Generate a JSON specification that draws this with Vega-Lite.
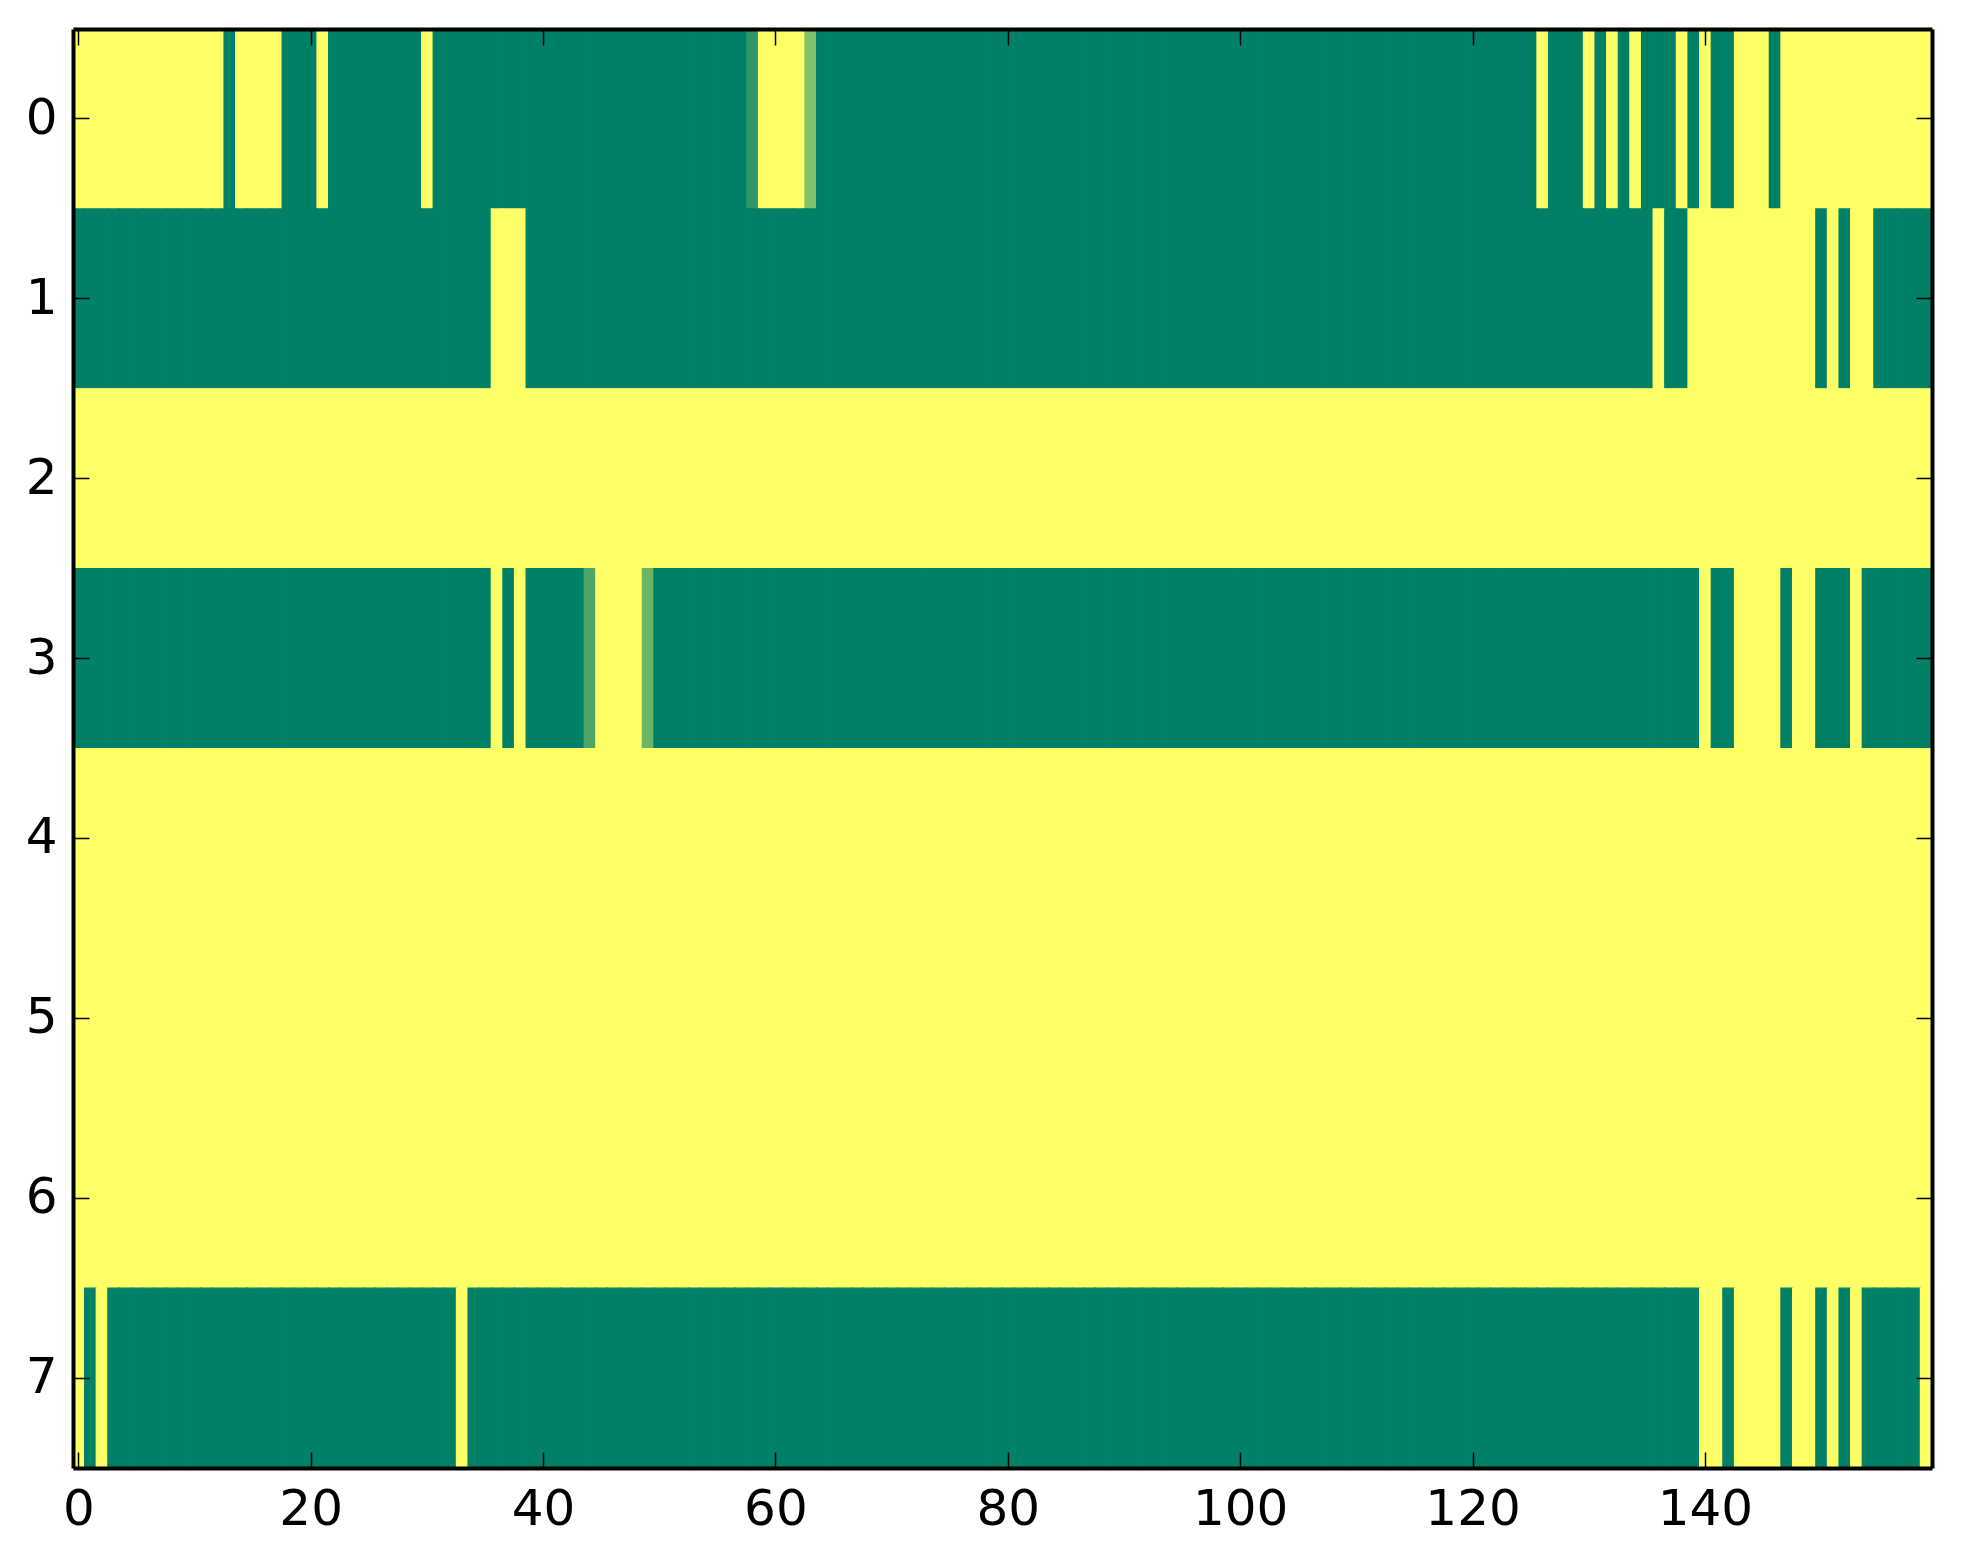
{
  "$schema": "https://vega.github.io/schema/vega-lite/v6.json",
  "description": "Binary matrix shown with the summer colormap",
  "width": 1859,
  "height": 1439,
  "autosize": "none",
  "padding": {"left": 73, "top": 29, "right": 31, "bottom": 96},
  "background": "white",
  "data": {"values": [
    {"r":0,"c":0,"v":1},{"r":0,"c":1,"v":1},{"r":0,"c":2,"v":1},{"r":0,"c":3,"v":1},{"r":0,"c":4,"v":1},{"r":0,"c":5,"v":1},{"r":0,"c":6,"v":1},{"r":0,"c":7,"v":1},{"r":0,"c":8,"v":1},{"r":0,"c":9,"v":1},
    {"r":0,"c":10,"v":1},{"r":0,"c":11,"v":1},{"r":0,"c":12,"v":1},{"r":0,"c":13,"v":0},{"r":0,"c":14,"v":1},{"r":0,"c":15,"v":1},{"r":0,"c":16,"v":1},{"r":0,"c":17,"v":1},{"r":0,"c":18,"v":0},{"r":0,"c":19,"v":0},
    {"r":0,"c":20,"v":0},{"r":0,"c":21,"v":1},{"r":0,"c":22,"v":0},{"r":0,"c":23,"v":0},{"r":0,"c":24,"v":0},{"r":0,"c":25,"v":0},{"r":0,"c":26,"v":0},{"r":0,"c":27,"v":0},{"r":0,"c":28,"v":0},{"r":0,"c":29,"v":0},
    {"r":0,"c":30,"v":1},{"r":0,"c":31,"v":0},{"r":0,"c":32,"v":0},{"r":0,"c":33,"v":0},{"r":0,"c":34,"v":0},{"r":0,"c":35,"v":0},{"r":0,"c":36,"v":0},{"r":0,"c":37,"v":0},{"r":0,"c":38,"v":0},{"r":0,"c":39,"v":0},
    {"r":0,"c":40,"v":0},{"r":0,"c":41,"v":0},{"r":0,"c":42,"v":0},{"r":0,"c":43,"v":0},{"r":0,"c":44,"v":0},{"r":0,"c":45,"v":0},{"r":0,"c":46,"v":0},{"r":0,"c":47,"v":0},{"r":0,"c":48,"v":0},{"r":0,"c":49,"v":0},
    {"r":0,"c":50,"v":0},{"r":0,"c":51,"v":0},{"r":0,"c":52,"v":0},{"r":0,"c":53,"v":0},{"r":0,"c":54,"v":0},{"r":0,"c":55,"v":0},{"r":0,"c":56,"v":0},{"r":0,"c":57,"v":0},{"r":0,"c":58,"v":0.18},{"r":0,"c":59,"v":1},
    {"r":0,"c":60,"v":1},{"r":0,"c":61,"v":1},{"r":0,"c":62,"v":1},{"r":0,"c":63,"v":0.5},{"r":0,"c":64,"v":0},{"r":0,"c":65,"v":0},{"r":0,"c":66,"v":0},{"r":0,"c":67,"v":0},{"r":0,"c":68,"v":0},{"r":0,"c":69,"v":0},
    {"r":0,"c":70,"v":0},{"r":0,"c":71,"v":0},{"r":0,"c":72,"v":0},{"r":0,"c":73,"v":0},{"r":0,"c":74,"v":0},{"r":0,"c":75,"v":0},{"r":0,"c":76,"v":0},{"r":0,"c":77,"v":0},{"r":0,"c":78,"v":0},{"r":0,"c":79,"v":0},
    {"r":0,"c":80,"v":0},{"r":0,"c":81,"v":0},{"r":0,"c":82,"v":0},{"r":0,"c":83,"v":0},{"r":0,"c":84,"v":0},{"r":0,"c":85,"v":0},{"r":0,"c":86,"v":0},{"r":0,"c":87,"v":0},{"r":0,"c":88,"v":0},{"r":0,"c":89,"v":0},
    {"r":0,"c":90,"v":0},{"r":0,"c":91,"v":0},{"r":0,"c":92,"v":0},{"r":0,"c":93,"v":0},{"r":0,"c":94,"v":0},{"r":0,"c":95,"v":0},{"r":0,"c":96,"v":0},{"r":0,"c":97,"v":0},{"r":0,"c":98,"v":0},{"r":0,"c":99,"v":0},
    {"r":0,"c":100,"v":0},{"r":0,"c":101,"v":0},{"r":0,"c":102,"v":0},{"r":0,"c":103,"v":0},{"r":0,"c":104,"v":0},{"r":0,"c":105,"v":0},{"r":0,"c":106,"v":0},{"r":0,"c":107,"v":0},{"r":0,"c":108,"v":0},{"r":0,"c":109,"v":0},
    {"r":0,"c":110,"v":0},{"r":0,"c":111,"v":0},{"r":0,"c":112,"v":0},{"r":0,"c":113,"v":0},{"r":0,"c":114,"v":0},{"r":0,"c":115,"v":0},{"r":0,"c":116,"v":0},{"r":0,"c":117,"v":0},{"r":0,"c":118,"v":0},{"r":0,"c":119,"v":0},
    {"r":0,"c":120,"v":0},{"r":0,"c":121,"v":0},{"r":0,"c":122,"v":0},{"r":0,"c":123,"v":0},{"r":0,"c":124,"v":0},{"r":0,"c":125,"v":0},{"r":0,"c":126,"v":1},{"r":0,"c":127,"v":0},{"r":0,"c":128,"v":0},{"r":0,"c":129,"v":0},
    {"r":0,"c":130,"v":1},{"r":0,"c":131,"v":0},{"r":0,"c":132,"v":1},{"r":0,"c":133,"v":0},{"r":0,"c":134,"v":1},{"r":0,"c":135,"v":0},{"r":0,"c":136,"v":0},{"r":0,"c":137,"v":0},{"r":0,"c":138,"v":1},{"r":0,"c":139,"v":0},
    {"r":0,"c":140,"v":1},{"r":0,"c":141,"v":0},{"r":0,"c":142,"v":0},{"r":0,"c":143,"v":1},{"r":0,"c":144,"v":1},{"r":0,"c":145,"v":1},{"r":0,"c":146,"v":0},{"r":0,"c":147,"v":1},{"r":0,"c":148,"v":1},{"r":0,"c":149,"v":1},
    {"r":0,"c":150,"v":1},{"r":0,"c":151,"v":1},{"r":0,"c":152,"v":1},{"r":0,"c":153,"v":1},{"r":0,"c":154,"v":1},{"r":0,"c":155,"v":1},{"r":0,"c":156,"v":1},{"r":0,"c":157,"v":1},{"r":0,"c":158,"v":1},{"r":0,"c":159,"v":1},

    {"r":1,"c":0,"v":0},{"r":1,"c":1,"v":0},{"r":1,"c":2,"v":0},{"r":1,"c":3,"v":0},{"r":1,"c":4,"v":0},{"r":1,"c":5,"v":0},{"r":1,"c":6,"v":0},{"r":1,"c":7,"v":0},{"r":1,"c":8,"v":0},{"r":1,"c":9,"v":0},
    {"r":1,"c":10,"v":0},{"r":1,"c":11,"v":0},{"r":1,"c":12,"v":0},{"r":1,"c":13,"v":0},{"r":1,"c":14,"v":0},{"r":1,"c":15,"v":0},{"r":1,"c":16,"v":0},{"r":1,"c":17,"v":0},{"r":1,"c":18,"v":0},{"r":1,"c":19,"v":0},
    {"r":1,"c":20,"v":0},{"r":1,"c":21,"v":0},{"r":1,"c":22,"v":0},{"r":1,"c":23,"v":0},{"r":1,"c":24,"v":0},{"r":1,"c":25,"v":0},{"r":1,"c":26,"v":0},{"r":1,"c":27,"v":0},{"r":1,"c":28,"v":0},{"r":1,"c":29,"v":0},
    {"r":1,"c":30,"v":0},{"r":1,"c":31,"v":0},{"r":1,"c":32,"v":0},{"r":1,"c":33,"v":0},{"r":1,"c":34,"v":0},{"r":1,"c":35,"v":0},{"r":1,"c":36,"v":1},{"r":1,"c":37,"v":1},{"r":1,"c":38,"v":1},{"r":1,"c":39,"v":0},
    {"r":1,"c":40,"v":0},{"r":1,"c":41,"v":0},{"r":1,"c":42,"v":0},{"r":1,"c":43,"v":0},{"r":1,"c":44,"v":0},{"r":1,"c":45,"v":0},{"r":1,"c":46,"v":0},{"r":1,"c":47,"v":0},{"r":1,"c":48,"v":0},{"r":1,"c":49,"v":0},
    {"r":1,"c":50,"v":0},{"r":1,"c":51,"v":0},{"r":1,"c":52,"v":0},{"r":1,"c":53,"v":0},{"r":1,"c":54,"v":0},{"r":1,"c":55,"v":0},{"r":1,"c":56,"v":0},{"r":1,"c":57,"v":0},{"r":1,"c":58,"v":0},{"r":1,"c":59,"v":0},
    {"r":1,"c":60,"v":0},{"r":1,"c":61,"v":0},{"r":1,"c":62,"v":0},{"r":1,"c":63,"v":0},{"r":1,"c":64,"v":0},{"r":1,"c":65,"v":0},{"r":1,"c":66,"v":0},{"r":1,"c":67,"v":0},{"r":1,"c":68,"v":0},{"r":1,"c":69,"v":0},
    {"r":1,"c":70,"v":0},{"r":1,"c":71,"v":0},{"r":1,"c":72,"v":0},{"r":1,"c":73,"v":0},{"r":1,"c":74,"v":0},{"r":1,"c":75,"v":0},{"r":1,"c":76,"v":0},{"r":1,"c":77,"v":0},{"r":1,"c":78,"v":0},{"r":1,"c":79,"v":0},
    {"r":1,"c":80,"v":0},{"r":1,"c":81,"v":0},{"r":1,"c":82,"v":0},{"r":1,"c":83,"v":0},{"r":1,"c":84,"v":0},{"r":1,"c":85,"v":0},{"r":1,"c":86,"v":0},{"r":1,"c":87,"v":0},{"r":1,"c":88,"v":0},{"r":1,"c":89,"v":0},
    {"r":1,"c":90,"v":0},{"r":1,"c":91,"v":0},{"r":1,"c":92,"v":0},{"r":1,"c":93,"v":0},{"r":1,"c":94,"v":0},{"r":1,"c":95,"v":0},{"r":1,"c":96,"v":0},{"r":1,"c":97,"v":0},{"r":1,"c":98,"v":0},{"r":1,"c":99,"v":0},
    {"r":1,"c":100,"v":0},{"r":1,"c":101,"v":0},{"r":1,"c":102,"v":0},{"r":1,"c":103,"v":0},{"r":1,"c":104,"v":0},{"r":1,"c":105,"v":0},{"r":1,"c":106,"v":0},{"r":1,"c":107,"v":0},{"r":1,"c":108,"v":0},{"r":1,"c":109,"v":0},
    {"r":1,"c":110,"v":0},{"r":1,"c":111,"v":0},{"r":1,"c":112,"v":0},{"r":1,"c":113,"v":0},{"r":1,"c":114,"v":0},{"r":1,"c":115,"v":0},{"r":1,"c":116,"v":0},{"r":1,"c":117,"v":0},{"r":1,"c":118,"v":0},{"r":1,"c":119,"v":0},
    {"r":1,"c":120,"v":0},{"r":1,"c":121,"v":0},{"r":1,"c":122,"v":0},{"r":1,"c":123,"v":0},{"r":1,"c":124,"v":0},{"r":1,"c":125,"v":0},{"r":1,"c":126,"v":0},{"r":1,"c":127,"v":0},{"r":1,"c":128,"v":0},{"r":1,"c":129,"v":0},
    {"r":1,"c":130,"v":0},{"r":1,"c":131,"v":0},{"r":1,"c":132,"v":0},{"r":1,"c":133,"v":0},{"r":1,"c":134,"v":0},{"r":1,"c":135,"v":0},{"r":1,"c":136,"v":1},{"r":1,"c":137,"v":0},{"r":1,"c":138,"v":0},{"r":1,"c":139,"v":1},
    {"r":1,"c":140,"v":1},{"r":1,"c":141,"v":1},{"r":1,"c":142,"v":1},{"r":1,"c":143,"v":1},{"r":1,"c":144,"v":1},{"r":1,"c":145,"v":1},{"r":1,"c":146,"v":1},{"r":1,"c":147,"v":1},{"r":1,"c":148,"v":1},{"r":1,"c":149,"v":1},
    {"r":1,"c":150,"v":0},{"r":1,"c":151,"v":1},{"r":1,"c":152,"v":0},{"r":1,"c":153,"v":1},{"r":1,"c":154,"v":1},{"r":1,"c":155,"v":0},{"r":1,"c":156,"v":0},{"r":1,"c":157,"v":0},{"r":1,"c":158,"v":0},{"r":1,"c":159,"v":0},

    {"r":2,"c":0,"v":1},{"r":2,"c":1,"v":1},{"r":2,"c":2,"v":1},{"r":2,"c":3,"v":1},{"r":2,"c":4,"v":1},{"r":2,"c":5,"v":1},{"r":2,"c":6,"v":1},{"r":2,"c":7,"v":1},{"r":2,"c":8,"v":1},{"r":2,"c":9,"v":1},
    {"r":2,"c":10,"v":1},{"r":2,"c":11,"v":1},{"r":2,"c":12,"v":1},{"r":2,"c":13,"v":1},{"r":2,"c":14,"v":1},{"r":2,"c":15,"v":1},{"r":2,"c":16,"v":1},{"r":2,"c":17,"v":1},{"r":2,"c":18,"v":1},{"r":2,"c":19,"v":1},
    {"r":2,"c":20,"v":1},{"r":2,"c":21,"v":1},{"r":2,"c":22,"v":1},{"r":2,"c":23,"v":1},{"r":2,"c":24,"v":1},{"r":2,"c":25,"v":1},{"r":2,"c":26,"v":1},{"r":2,"c":27,"v":1},{"r":2,"c":28,"v":1},{"r":2,"c":29,"v":1},
    {"r":2,"c":30,"v":1},{"r":2,"c":31,"v":1},{"r":2,"c":32,"v":1},{"r":2,"c":33,"v":1},{"r":2,"c":34,"v":1},{"r":2,"c":35,"v":1},{"r":2,"c":36,"v":1},{"r":2,"c":37,"v":1},{"r":2,"c":38,"v":1},{"r":2,"c":39,"v":1},
    {"r":2,"c":40,"v":1},{"r":2,"c":41,"v":1},{"r":2,"c":42,"v":1},{"r":2,"c":43,"v":1},{"r":2,"c":44,"v":1},{"r":2,"c":45,"v":1},{"r":2,"c":46,"v":1},{"r":2,"c":47,"v":1},{"r":2,"c":48,"v":1},{"r":2,"c":49,"v":1},
    {"r":2,"c":50,"v":1},{"r":2,"c":51,"v":1},{"r":2,"c":52,"v":1},{"r":2,"c":53,"v":1},{"r":2,"c":54,"v":1},{"r":2,"c":55,"v":1},{"r":2,"c":56,"v":1},{"r":2,"c":57,"v":1},{"r":2,"c":58,"v":1},{"r":2,"c":59,"v":1},
    {"r":2,"c":60,"v":1},{"r":2,"c":61,"v":1},{"r":2,"c":62,"v":1},{"r":2,"c":63,"v":1},{"r":2,"c":64,"v":1},{"r":2,"c":65,"v":1},{"r":2,"c":66,"v":1},{"r":2,"c":67,"v":1},{"r":2,"c":68,"v":1},{"r":2,"c":69,"v":1},
    {"r":2,"c":70,"v":1},{"r":2,"c":71,"v":1},{"r":2,"c":72,"v":1},{"r":2,"c":73,"v":1},{"r":2,"c":74,"v":1},{"r":2,"c":75,"v":1},{"r":2,"c":76,"v":1},{"r":2,"c":77,"v":1},{"r":2,"c":78,"v":1},{"r":2,"c":79,"v":1},
    {"r":2,"c":80,"v":1},{"r":2,"c":81,"v":1},{"r":2,"c":82,"v":1},{"r":2,"c":83,"v":1},{"r":2,"c":84,"v":1},{"r":2,"c":85,"v":1},{"r":2,"c":86,"v":1},{"r":2,"c":87,"v":1},{"r":2,"c":88,"v":1},{"r":2,"c":89,"v":1},
    {"r":2,"c":90,"v":1},{"r":2,"c":91,"v":1},{"r":2,"c":92,"v":1},{"r":2,"c":93,"v":1},{"r":2,"c":94,"v":1},{"r":2,"c":95,"v":1},{"r":2,"c":96,"v":1},{"r":2,"c":97,"v":1},{"r":2,"c":98,"v":1},{"r":2,"c":99,"v":1},
    {"r":2,"c":100,"v":1},{"r":2,"c":101,"v":1},{"r":2,"c":102,"v":1},{"r":2,"c":103,"v":1},{"r":2,"c":104,"v":1},{"r":2,"c":105,"v":1},{"r":2,"c":106,"v":1},{"r":2,"c":107,"v":1},{"r":2,"c":108,"v":1},{"r":2,"c":109,"v":1},
    {"r":2,"c":110,"v":1},{"r":2,"c":111,"v":1},{"r":2,"c":112,"v":1},{"r":2,"c":113,"v":1},{"r":2,"c":114,"v":1},{"r":2,"c":115,"v":1},{"r":2,"c":116,"v":1},{"r":2,"c":117,"v":1},{"r":2,"c":118,"v":1},{"r":2,"c":119,"v":1},
    {"r":2,"c":120,"v":1},{"r":2,"c":121,"v":1},{"r":2,"c":122,"v":1},{"r":2,"c":123,"v":1},{"r":2,"c":124,"v":1},{"r":2,"c":125,"v":1},{"r":2,"c":126,"v":1},{"r":2,"c":127,"v":1},{"r":2,"c":128,"v":1},{"r":2,"c":129,"v":1},
    {"r":2,"c":130,"v":1},{"r":2,"c":131,"v":1},{"r":2,"c":132,"v":1},{"r":2,"c":133,"v":1},{"r":2,"c":134,"v":1},{"r":2,"c":135,"v":1},{"r":2,"c":136,"v":1},{"r":2,"c":137,"v":1},{"r":2,"c":138,"v":1},{"r":2,"c":139,"v":1},
    {"r":2,"c":140,"v":1},{"r":2,"c":141,"v":1},{"r":2,"c":142,"v":1},{"r":2,"c":143,"v":1},{"r":2,"c":144,"v":1},{"r":2,"c":145,"v":1},{"r":2,"c":146,"v":1},{"r":2,"c":147,"v":1},{"r":2,"c":148,"v":1},{"r":2,"c":149,"v":1},
    {"r":2,"c":150,"v":1},{"r":2,"c":151,"v":1},{"r":2,"c":152,"v":1},{"r":2,"c":153,"v":1},{"r":2,"c":154,"v":1},{"r":2,"c":155,"v":1},{"r":2,"c":156,"v":1},{"r":2,"c":157,"v":1},{"r":2,"c":158,"v":1},{"r":2,"c":159,"v":1},

    {"r":3,"c":0,"v":0},{"r":3,"c":1,"v":0},{"r":3,"c":2,"v":0},{"r":3,"c":3,"v":0},{"r":3,"c":4,"v":0},{"r":3,"c":5,"v":0},{"r":3,"c":6,"v":0},{"r":3,"c":7,"v":0},{"r":3,"c":8,"v":0},{"r":3,"c":9,"v":0},
    {"r":3,"c":10,"v":0},{"r":3,"c":11,"v":0},{"r":3,"c":12,"v":0},{"r":3,"c":13,"v":0},{"r":3,"c":14,"v":0},{"r":3,"c":15,"v":0},{"r":3,"c":16,"v":0},{"r":3,"c":17,"v":0},{"r":3,"c":18,"v":0},{"r":3,"c":19,"v":0},
    {"r":3,"c":20,"v":0},{"r":3,"c":21,"v":0},{"r":3,"c":22,"v":0},{"r":3,"c":23,"v":0},{"r":3,"c":24,"v":0},{"r":3,"c":25,"v":0},{"r":3,"c":26,"v":0},{"r":3,"c":27,"v":0},{"r":3,"c":28,"v":0},{"r":3,"c":29,"v":0},
    {"r":3,"c":30,"v":0},{"r":3,"c":31,"v":0},{"r":3,"c":32,"v":0},{"r":3,"c":33,"v":0},{"r":3,"c":34,"v":0},{"r":3,"c":35,"v":0},{"r":3,"c":36,"v":1},{"r":3,"c":37,"v":0},{"r":3,"c":38,"v":1},{"r":3,"c":39,"v":0},
    {"r":3,"c":40,"v":0},{"r":3,"c":41,"v":0},{"r":3,"c":42,"v":0},{"r":3,"c":43,"v":0},{"r":3,"c":44,"v":0.3},{"r":3,"c":45,"v":1},{"r":3,"c":46,"v":1},{"r":3,"c":47,"v":1},{"r":3,"c":48,"v":1},{"r":3,"c":49,"v":0.42},
    {"r":3,"c":50,"v":0},{"r":3,"c":51,"v":0},{"r":3,"c":52,"v":0},{"r":3,"c":53,"v":0},{"r":3,"c":54,"v":0},{"r":3,"c":55,"v":0},{"r":3,"c":56,"v":0},{"r":3,"c":57,"v":0},{"r":3,"c":58,"v":0},{"r":3,"c":59,"v":0},
    {"r":3,"c":60,"v":0},{"r":3,"c":61,"v":0},{"r":3,"c":62,"v":0},{"r":3,"c":63,"v":0},{"r":3,"c":64,"v":0},{"r":3,"c":65,"v":0},{"r":3,"c":66,"v":0},{"r":3,"c":67,"v":0},{"r":3,"c":68,"v":0},{"r":3,"c":69,"v":0},
    {"r":3,"c":70,"v":0},{"r":3,"c":71,"v":0},{"r":3,"c":72,"v":0},{"r":3,"c":73,"v":0},{"r":3,"c":74,"v":0},{"r":3,"c":75,"v":0},{"r":3,"c":76,"v":0},{"r":3,"c":77,"v":0},{"r":3,"c":78,"v":0},{"r":3,"c":79,"v":0},
    {"r":3,"c":80,"v":0},{"r":3,"c":81,"v":0},{"r":3,"c":82,"v":0},{"r":3,"c":83,"v":0},{"r":3,"c":84,"v":0},{"r":3,"c":85,"v":0},{"r":3,"c":86,"v":0},{"r":3,"c":87,"v":0},{"r":3,"c":88,"v":0},{"r":3,"c":89,"v":0},
    {"r":3,"c":90,"v":0},{"r":3,"c":91,"v":0},{"r":3,"c":92,"v":0},{"r":3,"c":93,"v":0},{"r":3,"c":94,"v":0},{"r":3,"c":95,"v":0},{"r":3,"c":96,"v":0},{"r":3,"c":97,"v":0},{"r":3,"c":98,"v":0},{"r":3,"c":99,"v":0},
    {"r":3,"c":100,"v":0},{"r":3,"c":101,"v":0},{"r":3,"c":102,"v":0},{"r":3,"c":103,"v":0},{"r":3,"c":104,"v":0},{"r":3,"c":105,"v":0},{"r":3,"c":106,"v":0},{"r":3,"c":107,"v":0},{"r":3,"c":108,"v":0},{"r":3,"c":109,"v":0},
    {"r":3,"c":110,"v":0},{"r":3,"c":111,"v":0},{"r":3,"c":112,"v":0},{"r":3,"c":113,"v":0},{"r":3,"c":114,"v":0},{"r":3,"c":115,"v":0},{"r":3,"c":116,"v":0},{"r":3,"c":117,"v":0},{"r":3,"c":118,"v":0},{"r":3,"c":119,"v":0},
    {"r":3,"c":120,"v":0},{"r":3,"c":121,"v":0},{"r":3,"c":122,"v":0},{"r":3,"c":123,"v":0},{"r":3,"c":124,"v":0},{"r":3,"c":125,"v":0},{"r":3,"c":126,"v":0},{"r":3,"c":127,"v":0},{"r":3,"c":128,"v":0},{"r":3,"c":129,"v":0},
    {"r":3,"c":130,"v":0},{"r":3,"c":131,"v":0},{"r":3,"c":132,"v":0},{"r":3,"c":133,"v":0},{"r":3,"c":134,"v":0},{"r":3,"c":135,"v":0},{"r":3,"c":136,"v":0},{"r":3,"c":137,"v":0},{"r":3,"c":138,"v":0},{"r":3,"c":139,"v":0},
    {"r":3,"c":140,"v":1},{"r":3,"c":141,"v":0},{"r":3,"c":142,"v":0},{"r":3,"c":143,"v":1},{"r":3,"c":144,"v":1},{"r":3,"c":145,"v":1},{"r":3,"c":146,"v":1},{"r":3,"c":147,"v":0},{"r":3,"c":148,"v":1},{"r":3,"c":149,"v":1},
    {"r":3,"c":150,"v":0},{"r":3,"c":151,"v":0},{"r":3,"c":152,"v":0},{"r":3,"c":153,"v":1},{"r":3,"c":154,"v":0},{"r":3,"c":155,"v":0},{"r":3,"c":156,"v":0},{"r":3,"c":157,"v":0},{"r":3,"c":158,"v":0},{"r":3,"c":159,"v":0},

    {"r":4,"c":0,"v":1},{"r":4,"c":1,"v":1},{"r":4,"c":2,"v":1},{"r":4,"c":3,"v":1},{"r":4,"c":4,"v":1},{"r":4,"c":5,"v":1},{"r":4,"c":6,"v":1},{"r":4,"c":7,"v":1},{"r":4,"c":8,"v":1},{"r":4,"c":9,"v":1},
    {"r":4,"c":10,"v":1},{"r":4,"c":11,"v":1},{"r":4,"c":12,"v":1},{"r":4,"c":13,"v":1},{"r":4,"c":14,"v":1},{"r":4,"c":15,"v":1},{"r":4,"c":16,"v":1},{"r":4,"c":17,"v":1},{"r":4,"c":18,"v":1},{"r":4,"c":19,"v":1},
    {"r":4,"c":20,"v":1},{"r":4,"c":21,"v":1},{"r":4,"c":22,"v":1},{"r":4,"c":23,"v":1},{"r":4,"c":24,"v":1},{"r":4,"c":25,"v":1},{"r":4,"c":26,"v":1},{"r":4,"c":27,"v":1},{"r":4,"c":28,"v":1},{"r":4,"c":29,"v":1},
    {"r":4,"c":30,"v":1},{"r":4,"c":31,"v":1},{"r":4,"c":32,"v":1},{"r":4,"c":33,"v":1},{"r":4,"c":34,"v":1},{"r":4,"c":35,"v":1},{"r":4,"c":36,"v":1},{"r":4,"c":37,"v":1},{"r":4,"c":38,"v":1},{"r":4,"c":39,"v":1},
    {"r":4,"c":40,"v":1},{"r":4,"c":41,"v":1},{"r":4,"c":42,"v":1},{"r":4,"c":43,"v":1},{"r":4,"c":44,"v":1},{"r":4,"c":45,"v":1},{"r":4,"c":46,"v":1},{"r":4,"c":47,"v":1},{"r":4,"c":48,"v":1},{"r":4,"c":49,"v":1},
    {"r":4,"c":50,"v":1},{"r":4,"c":51,"v":1},{"r":4,"c":52,"v":1},{"r":4,"c":53,"v":1},{"r":4,"c":54,"v":1},{"r":4,"c":55,"v":1},{"r":4,"c":56,"v":1},{"r":4,"c":57,"v":1},{"r":4,"c":58,"v":1},{"r":4,"c":59,"v":1},
    {"r":4,"c":60,"v":1},{"r":4,"c":61,"v":1},{"r":4,"c":62,"v":1},{"r":4,"c":63,"v":1},{"r":4,"c":64,"v":1},{"r":4,"c":65,"v":1},{"r":4,"c":66,"v":1},{"r":4,"c":67,"v":1},{"r":4,"c":68,"v":1},{"r":4,"c":69,"v":1},
    {"r":4,"c":70,"v":1},{"r":4,"c":71,"v":1},{"r":4,"c":72,"v":1},{"r":4,"c":73,"v":1},{"r":4,"c":74,"v":1},{"r":4,"c":75,"v":1},{"r":4,"c":76,"v":1},{"r":4,"c":77,"v":1},{"r":4,"c":78,"v":1},{"r":4,"c":79,"v":1},
    {"r":4,"c":80,"v":1},{"r":4,"c":81,"v":1},{"r":4,"c":82,"v":1},{"r":4,"c":83,"v":1},{"r":4,"c":84,"v":1},{"r":4,"c":85,"v":1},{"r":4,"c":86,"v":1},{"r":4,"c":87,"v":1},{"r":4,"c":88,"v":1},{"r":4,"c":89,"v":1},
    {"r":4,"c":90,"v":1},{"r":4,"c":91,"v":1},{"r":4,"c":92,"v":1},{"r":4,"c":93,"v":1},{"r":4,"c":94,"v":1},{"r":4,"c":95,"v":1},{"r":4,"c":96,"v":1},{"r":4,"c":97,"v":1},{"r":4,"c":98,"v":1},{"r":4,"c":99,"v":1},
    {"r":4,"c":100,"v":1},{"r":4,"c":101,"v":1},{"r":4,"c":102,"v":1},{"r":4,"c":103,"v":1},{"r":4,"c":104,"v":1},{"r":4,"c":105,"v":1},{"r":4,"c":106,"v":1},{"r":4,"c":107,"v":1},{"r":4,"c":108,"v":1},{"r":4,"c":109,"v":1},
    {"r":4,"c":110,"v":1},{"r":4,"c":111,"v":1},{"r":4,"c":112,"v":1},{"r":4,"c":113,"v":1},{"r":4,"c":114,"v":1},{"r":4,"c":115,"v":1},{"r":4,"c":116,"v":1},{"r":4,"c":117,"v":1},{"r":4,"c":118,"v":1},{"r":4,"c":119,"v":1},
    {"r":4,"c":120,"v":1},{"r":4,"c":121,"v":1},{"r":4,"c":122,"v":1},{"r":4,"c":123,"v":1},{"r":4,"c":124,"v":1},{"r":4,"c":125,"v":1},{"r":4,"c":126,"v":1},{"r":4,"c":127,"v":1},{"r":4,"c":128,"v":1},{"r":4,"c":129,"v":1},
    {"r":4,"c":130,"v":1},{"r":4,"c":131,"v":1},{"r":4,"c":132,"v":1},{"r":4,"c":133,"v":1},{"r":4,"c":134,"v":1},{"r":4,"c":135,"v":1},{"r":4,"c":136,"v":1},{"r":4,"c":137,"v":1},{"r":4,"c":138,"v":1},{"r":4,"c":139,"v":1},
    {"r":4,"c":140,"v":1},{"r":4,"c":141,"v":1},{"r":4,"c":142,"v":1},{"r":4,"c":143,"v":1},{"r":4,"c":144,"v":1},{"r":4,"c":145,"v":1},{"r":4,"c":146,"v":1},{"r":4,"c":147,"v":1},{"r":4,"c":148,"v":1},{"r":4,"c":149,"v":1},
    {"r":4,"c":150,"v":1},{"r":4,"c":151,"v":1},{"r":4,"c":152,"v":1},{"r":4,"c":153,"v":1},{"r":4,"c":154,"v":1},{"r":4,"c":155,"v":1},{"r":4,"c":156,"v":1},{"r":4,"c":157,"v":1},{"r":4,"c":158,"v":1},{"r":4,"c":159,"v":1},

    {"r":5,"c":0,"v":1},{"r":5,"c":1,"v":1},{"r":5,"c":2,"v":1},{"r":5,"c":3,"v":1},{"r":5,"c":4,"v":1},{"r":5,"c":5,"v":1},{"r":5,"c":6,"v":1},{"r":5,"c":7,"v":1},{"r":5,"c":8,"v":1},{"r":5,"c":9,"v":1},
    {"r":5,"c":10,"v":1},{"r":5,"c":11,"v":1},{"r":5,"c":12,"v":1},{"r":5,"c":13,"v":1},{"r":5,"c":14,"v":1},{"r":5,"c":15,"v":1},{"r":5,"c":16,"v":1},{"r":5,"c":17,"v":1},{"r":5,"c":18,"v":1},{"r":5,"c":19,"v":1},
    {"r":5,"c":20,"v":1},{"r":5,"c":21,"v":1},{"r":5,"c":22,"v":1},{"r":5,"c":23,"v":1},{"r":5,"c":24,"v":1},{"r":5,"c":25,"v":1},{"r":5,"c":26,"v":1},{"r":5,"c":27,"v":1},{"r":5,"c":28,"v":1},{"r":5,"c":29,"v":1},
    {"r":5,"c":30,"v":1},{"r":5,"c":31,"v":1},{"r":5,"c":32,"v":1},{"r":5,"c":33,"v":1},{"r":5,"c":34,"v":1},{"r":5,"c":35,"v":1},{"r":5,"c":36,"v":1},{"r":5,"c":37,"v":1},{"r":5,"c":38,"v":1},{"r":5,"c":39,"v":1},
    {"r":5,"c":40,"v":1},{"r":5,"c":41,"v":1},{"r":5,"c":42,"v":1},{"r":5,"c":43,"v":1},{"r":5,"c":44,"v":1},{"r":5,"c":45,"v":1},{"r":5,"c":46,"v":1},{"r":5,"c":47,"v":1},{"r":5,"c":48,"v":1},{"r":5,"c":49,"v":1},
    {"r":5,"c":50,"v":1},{"r":5,"c":51,"v":1},{"r":5,"c":52,"v":1},{"r":5,"c":53,"v":1},{"r":5,"c":54,"v":1},{"r":5,"c":55,"v":1},{"r":5,"c":56,"v":1},{"r":5,"c":57,"v":1},{"r":5,"c":58,"v":1},{"r":5,"c":59,"v":1},
    {"r":5,"c":60,"v":1},{"r":5,"c":61,"v":1},{"r":5,"c":62,"v":1},{"r":5,"c":63,"v":1},{"r":5,"c":64,"v":1},{"r":5,"c":65,"v":1},{"r":5,"c":66,"v":1},{"r":5,"c":67,"v":1},{"r":5,"c":68,"v":1},{"r":5,"c":69,"v":1},
    {"r":5,"c":70,"v":1},{"r":5,"c":71,"v":1},{"r":5,"c":72,"v":1},{"r":5,"c":73,"v":1},{"r":5,"c":74,"v":1},{"r":5,"c":75,"v":1},{"r":5,"c":76,"v":1},{"r":5,"c":77,"v":1},{"r":5,"c":78,"v":1},{"r":5,"c":79,"v":1},
    {"r":5,"c":80,"v":1},{"r":5,"c":81,"v":1},{"r":5,"c":82,"v":1},{"r":5,"c":83,"v":1},{"r":5,"c":84,"v":1},{"r":5,"c":85,"v":1},{"r":5,"c":86,"v":1},{"r":5,"c":87,"v":1},{"r":5,"c":88,"v":1},{"r":5,"c":89,"v":1},
    {"r":5,"c":90,"v":1},{"r":5,"c":91,"v":1},{"r":5,"c":92,"v":1},{"r":5,"c":93,"v":1},{"r":5,"c":94,"v":1},{"r":5,"c":95,"v":1},{"r":5,"c":96,"v":1},{"r":5,"c":97,"v":1},{"r":5,"c":98,"v":1},{"r":5,"c":99,"v":1},
    {"r":5,"c":100,"v":1},{"r":5,"c":101,"v":1},{"r":5,"c":102,"v":1},{"r":5,"c":103,"v":1},{"r":5,"c":104,"v":1},{"r":5,"c":105,"v":1},{"r":5,"c":106,"v":1},{"r":5,"c":107,"v":1},{"r":5,"c":108,"v":1},{"r":5,"c":109,"v":1},
    {"r":5,"c":110,"v":1},{"r":5,"c":111,"v":1},{"r":5,"c":112,"v":1},{"r":5,"c":113,"v":1},{"r":5,"c":114,"v":1},{"r":5,"c":115,"v":1},{"r":5,"c":116,"v":1},{"r":5,"c":117,"v":1},{"r":5,"c":118,"v":1},{"r":5,"c":119,"v":1},
    {"r":5,"c":120,"v":1},{"r":5,"c":121,"v":1},{"r":5,"c":122,"v":1},{"r":5,"c":123,"v":1},{"r":5,"c":124,"v":1},{"r":5,"c":125,"v":1},{"r":5,"c":126,"v":1},{"r":5,"c":127,"v":1},{"r":5,"c":128,"v":1},{"r":5,"c":129,"v":1},
    {"r":5,"c":130,"v":1},{"r":5,"c":131,"v":1},{"r":5,"c":132,"v":1},{"r":5,"c":133,"v":1},{"r":5,"c":134,"v":1},{"r":5,"c":135,"v":1},{"r":5,"c":136,"v":1},{"r":5,"c":137,"v":1},{"r":5,"c":138,"v":1},{"r":5,"c":139,"v":1},
    {"r":5,"c":140,"v":1},{"r":5,"c":141,"v":1},{"r":5,"c":142,"v":1},{"r":5,"c":143,"v":1},{"r":5,"c":144,"v":1},{"r":5,"c":145,"v":1},{"r":5,"c":146,"v":1},{"r":5,"c":147,"v":1},{"r":5,"c":148,"v":1},{"r":5,"c":149,"v":1},
    {"r":5,"c":150,"v":1},{"r":5,"c":151,"v":1},{"r":5,"c":152,"v":1},{"r":5,"c":153,"v":1},{"r":5,"c":154,"v":1},{"r":5,"c":155,"v":1},{"r":5,"c":156,"v":1},{"r":5,"c":157,"v":1},{"r":5,"c":158,"v":1},{"r":5,"c":159,"v":1},

    {"r":6,"c":0,"v":1},{"r":6,"c":1,"v":1},{"r":6,"c":2,"v":1},{"r":6,"c":3,"v":1},{"r":6,"c":4,"v":1},{"r":6,"c":5,"v":1},{"r":6,"c":6,"v":1},{"r":6,"c":7,"v":1},{"r":6,"c":8,"v":1},{"r":6,"c":9,"v":1},
    {"r":6,"c":10,"v":1},{"r":6,"c":11,"v":1},{"r":6,"c":12,"v":1},{"r":6,"c":13,"v":1},{"r":6,"c":14,"v":1},{"r":6,"c":15,"v":1},{"r":6,"c":16,"v":1},{"r":6,"c":17,"v":1},{"r":6,"c":18,"v":1},{"r":6,"c":19,"v":1},
    {"r":6,"c":20,"v":1},{"r":6,"c":21,"v":1},{"r":6,"c":22,"v":1},{"r":6,"c":23,"v":1},{"r":6,"c":24,"v":1},{"r":6,"c":25,"v":1},{"r":6,"c":26,"v":1},{"r":6,"c":27,"v":1},{"r":6,"c":28,"v":1},{"r":6,"c":29,"v":1},
    {"r":6,"c":30,"v":1},{"r":6,"c":31,"v":1},{"r":6,"c":32,"v":1},{"r":6,"c":33,"v":1},{"r":6,"c":34,"v":1},{"r":6,"c":35,"v":1},{"r":6,"c":36,"v":1},{"r":6,"c":37,"v":1},{"r":6,"c":38,"v":1},{"r":6,"c":39,"v":1},
    {"r":6,"c":40,"v":1},{"r":6,"c":41,"v":1},{"r":6,"c":42,"v":1},{"r":6,"c":43,"v":1},{"r":6,"c":44,"v":1},{"r":6,"c":45,"v":1},{"r":6,"c":46,"v":1},{"r":6,"c":47,"v":1},{"r":6,"c":48,"v":1},{"r":6,"c":49,"v":1},
    {"r":6,"c":50,"v":1},{"r":6,"c":51,"v":1},{"r":6,"c":52,"v":1},{"r":6,"c":53,"v":1},{"r":6,"c":54,"v":1},{"r":6,"c":55,"v":1},{"r":6,"c":56,"v":1},{"r":6,"c":57,"v":1},{"r":6,"c":58,"v":1},{"r":6,"c":59,"v":1},
    {"r":6,"c":60,"v":1},{"r":6,"c":61,"v":1},{"r":6,"c":62,"v":1},{"r":6,"c":63,"v":1},{"r":6,"c":64,"v":1},{"r":6,"c":65,"v":1},{"r":6,"c":66,"v":1},{"r":6,"c":67,"v":1},{"r":6,"c":68,"v":1},{"r":6,"c":69,"v":1},
    {"r":6,"c":70,"v":1},{"r":6,"c":71,"v":1},{"r":6,"c":72,"v":1},{"r":6,"c":73,"v":1},{"r":6,"c":74,"v":1},{"r":6,"c":75,"v":1},{"r":6,"c":76,"v":1},{"r":6,"c":77,"v":1},{"r":6,"c":78,"v":1},{"r":6,"c":79,"v":1},
    {"r":6,"c":80,"v":1},{"r":6,"c":81,"v":1},{"r":6,"c":82,"v":1},{"r":6,"c":83,"v":1},{"r":6,"c":84,"v":1},{"r":6,"c":85,"v":1},{"r":6,"c":86,"v":1},{"r":6,"c":87,"v":1},{"r":6,"c":88,"v":1},{"r":6,"c":89,"v":1},
    {"r":6,"c":90,"v":1},{"r":6,"c":91,"v":1},{"r":6,"c":92,"v":1},{"r":6,"c":93,"v":1},{"r":6,"c":94,"v":1},{"r":6,"c":95,"v":1},{"r":6,"c":96,"v":1},{"r":6,"c":97,"v":1},{"r":6,"c":98,"v":1},{"r":6,"c":99,"v":1},
    {"r":6,"c":100,"v":1},{"r":6,"c":101,"v":1},{"r":6,"c":102,"v":1},{"r":6,"c":103,"v":1},{"r":6,"c":104,"v":1},{"r":6,"c":105,"v":1},{"r":6,"c":106,"v":1},{"r":6,"c":107,"v":1},{"r":6,"c":108,"v":1},{"r":6,"c":109,"v":1},
    {"r":6,"c":110,"v":1},{"r":6,"c":111,"v":1},{"r":6,"c":112,"v":1},{"r":6,"c":113,"v":1},{"r":6,"c":114,"v":1},{"r":6,"c":115,"v":1},{"r":6,"c":116,"v":1},{"r":6,"c":117,"v":1},{"r":6,"c":118,"v":1},{"r":6,"c":119,"v":1},
    {"r":6,"c":120,"v":1},{"r":6,"c":121,"v":1},{"r":6,"c":122,"v":1},{"r":6,"c":123,"v":1},{"r":6,"c":124,"v":1},{"r":6,"c":125,"v":1},{"r":6,"c":126,"v":1},{"r":6,"c":127,"v":1},{"r":6,"c":128,"v":1},{"r":6,"c":129,"v":1},
    {"r":6,"c":130,"v":1},{"r":6,"c":131,"v":1},{"r":6,"c":132,"v":1},{"r":6,"c":133,"v":1},{"r":6,"c":134,"v":1},{"r":6,"c":135,"v":1},{"r":6,"c":136,"v":1},{"r":6,"c":137,"v":1},{"r":6,"c":138,"v":1},{"r":6,"c":139,"v":1},
    {"r":6,"c":140,"v":1},{"r":6,"c":141,"v":1},{"r":6,"c":142,"v":1},{"r":6,"c":143,"v":1},{"r":6,"c":144,"v":1},{"r":6,"c":145,"v":1},{"r":6,"c":146,"v":1},{"r":6,"c":147,"v":1},{"r":6,"c":148,"v":1},{"r":6,"c":149,"v":1},
    {"r":6,"c":150,"v":1},{"r":6,"c":151,"v":1},{"r":6,"c":152,"v":1},{"r":6,"c":153,"v":1},{"r":6,"c":154,"v":1},{"r":6,"c":155,"v":1},{"r":6,"c":156,"v":1},{"r":6,"c":157,"v":1},{"r":6,"c":158,"v":1},{"r":6,"c":159,"v":1},

    {"r":7,"c":0,"v":1},{"r":7,"c":1,"v":0},{"r":7,"c":2,"v":1},{"r":7,"c":3,"v":0},{"r":7,"c":4,"v":0},{"r":7,"c":5,"v":0},{"r":7,"c":6,"v":0},{"r":7,"c":7,"v":0},{"r":7,"c":8,"v":0},{"r":7,"c":9,"v":0},
    {"r":7,"c":10,"v":0},{"r":7,"c":11,"v":0},{"r":7,"c":12,"v":0},{"r":7,"c":13,"v":0},{"r":7,"c":14,"v":0},{"r":7,"c":15,"v":0},{"r":7,"c":16,"v":0},{"r":7,"c":17,"v":0},{"r":7,"c":18,"v":0},{"r":7,"c":19,"v":0},
    {"r":7,"c":20,"v":0},{"r":7,"c":21,"v":0},{"r":7,"c":22,"v":0},{"r":7,"c":23,"v":0},{"r":7,"c":24,"v":0},{"r":7,"c":25,"v":0},{"r":7,"c":26,"v":0},{"r":7,"c":27,"v":0},{"r":7,"c":28,"v":0},{"r":7,"c":29,"v":0},
    {"r":7,"c":30,"v":0},{"r":7,"c":31,"v":0},{"r":7,"c":32,"v":0},{"r":7,"c":33,"v":1},{"r":7,"c":34,"v":0},{"r":7,"c":35,"v":0},{"r":7,"c":36,"v":0},{"r":7,"c":37,"v":0},{"r":7,"c":38,"v":0},{"r":7,"c":39,"v":0},
    {"r":7,"c":40,"v":0},{"r":7,"c":41,"v":0},{"r":7,"c":42,"v":0},{"r":7,"c":43,"v":0},{"r":7,"c":44,"v":0},{"r":7,"c":45,"v":0},{"r":7,"c":46,"v":0},{"r":7,"c":47,"v":0},{"r":7,"c":48,"v":0},{"r":7,"c":49,"v":0},
    {"r":7,"c":50,"v":0},{"r":7,"c":51,"v":0},{"r":7,"c":52,"v":0},{"r":7,"c":53,"v":0},{"r":7,"c":54,"v":0},{"r":7,"c":55,"v":0},{"r":7,"c":56,"v":0},{"r":7,"c":57,"v":0},{"r":7,"c":58,"v":0},{"r":7,"c":59,"v":0},
    {"r":7,"c":60,"v":0},{"r":7,"c":61,"v":0},{"r":7,"c":62,"v":0},{"r":7,"c":63,"v":0},{"r":7,"c":64,"v":0},{"r":7,"c":65,"v":0},{"r":7,"c":66,"v":0},{"r":7,"c":67,"v":0},{"r":7,"c":68,"v":0},{"r":7,"c":69,"v":0},
    {"r":7,"c":70,"v":0},{"r":7,"c":71,"v":0},{"r":7,"c":72,"v":0},{"r":7,"c":73,"v":0},{"r":7,"c":74,"v":0},{"r":7,"c":75,"v":0},{"r":7,"c":76,"v":0},{"r":7,"c":77,"v":0},{"r":7,"c":78,"v":0},{"r":7,"c":79,"v":0},
    {"r":7,"c":80,"v":0},{"r":7,"c":81,"v":0},{"r":7,"c":82,"v":0},{"r":7,"c":83,"v":0},{"r":7,"c":84,"v":0},{"r":7,"c":85,"v":0},{"r":7,"c":86,"v":0},{"r":7,"c":87,"v":0},{"r":7,"c":88,"v":0},{"r":7,"c":89,"v":0},
    {"r":7,"c":90,"v":0},{"r":7,"c":91,"v":0},{"r":7,"c":92,"v":0},{"r":7,"c":93,"v":0},{"r":7,"c":94,"v":0},{"r":7,"c":95,"v":0},{"r":7,"c":96,"v":0},{"r":7,"c":97,"v":0},{"r":7,"c":98,"v":0},{"r":7,"c":99,"v":0},
    {"r":7,"c":100,"v":0},{"r":7,"c":101,"v":0},{"r":7,"c":102,"v":0},{"r":7,"c":103,"v":0},{"r":7,"c":104,"v":0},{"r":7,"c":105,"v":0},{"r":7,"c":106,"v":0},{"r":7,"c":107,"v":0},{"r":7,"c":108,"v":0},{"r":7,"c":109,"v":0},
    {"r":7,"c":110,"v":0},{"r":7,"c":111,"v":0},{"r":7,"c":112,"v":0},{"r":7,"c":113,"v":0},{"r":7,"c":114,"v":0},{"r":7,"c":115,"v":0},{"r":7,"c":116,"v":0},{"r":7,"c":117,"v":0},{"r":7,"c":118,"v":0},{"r":7,"c":119,"v":0},
    {"r":7,"c":120,"v":0},{"r":7,"c":121,"v":0},{"r":7,"c":122,"v":0},{"r":7,"c":123,"v":0},{"r":7,"c":124,"v":0},{"r":7,"c":125,"v":0},{"r":7,"c":126,"v":0},{"r":7,"c":127,"v":0},{"r":7,"c":128,"v":0},{"r":7,"c":129,"v":0},
    {"r":7,"c":130,"v":0},{"r":7,"c":131,"v":0},{"r":7,"c":132,"v":0},{"r":7,"c":133,"v":0},{"r":7,"c":134,"v":0},{"r":7,"c":135,"v":0},{"r":7,"c":136,"v":0},{"r":7,"c":137,"v":0},{"r":7,"c":138,"v":0},{"r":7,"c":139,"v":0},
    {"r":7,"c":140,"v":1},{"r":7,"c":141,"v":1},{"r":7,"c":142,"v":0},{"r":7,"c":143,"v":1},{"r":7,"c":144,"v":1},{"r":7,"c":145,"v":1},{"r":7,"c":146,"v":1},{"r":7,"c":147,"v":0},{"r":7,"c":148,"v":1},{"r":7,"c":149,"v":1},
    {"r":7,"c":150,"v":0},{"r":7,"c":151,"v":1},{"r":7,"c":152,"v":0},{"r":7,"c":153,"v":1},{"r":7,"c":154,"v":0},{"r":7,"c":155,"v":0},{"r":7,"c":156,"v":0},{"r":7,"c":157,"v":0},{"r":7,"c":158,"v":0},{"r":7,"c":159,"v":1}
  ]},
  "layer": [
    {
      "mark": {"type": "rect", "strokeWidth": 1.2, "strokeOpacity": 1, "opacity": 1},
      "encoding": {
        "x": {"field": "c", "type": "ordinal", "scale": {"paddingInner": 0, "paddingOuter": 0},
              "axis": {"orient": "bottom", "values": [0, 20, 40, 60, 80, 100, 120, 140], "labelAngle": 0}},
        "y": {"field": "r", "type": "ordinal", "scale": {"paddingInner": 0, "paddingOuter": 0},
              "axis": {"orient": "left"}},
        "color": {"field": "v", "type": "quantitative",
                  "scale": {"domain": [0, 1], "range": ["#008066", "#ffff66"], "interpolate": "rgb"},
                  "legend": null},
        "stroke": {"field": "v", "type": "quantitative",
                   "scale": {"domain": [0, 1], "range": ["#008066", "#ffff66"], "interpolate": "rgb"},
                   "legend": null}
      }
    },
    {
      "mark": {"type": "rect", "opacity": 0},
      "encoding": {
        "x": {"field": "c", "type": "ordinal",
              "axis": {"orient": "top", "values": [0, 20, 40, 60, 80, 100, 120, 140], "labels": false}},
        "y": {"field": "r", "type": "ordinal", "axis": {"orient": "right", "labels": false}}
      }
    }
  ],
  "resolve": {"axis": {"x": "independent", "y": "independent"}},
  "config": {
    "view": {"stroke": null},
    "axis": {
      "title": null,
      "grid": false,
      "domainColor": "black",
      "domainWidth": 4,
      "tickColor": "black",
      "tickWidth": 1.5,
      "tickSize": -16,
      "labelFont": "DejaVu Sans",
      "labelFontSize": 50,
      "labelColor": "black",
      "labelPadding": 32
    }
  }
}
